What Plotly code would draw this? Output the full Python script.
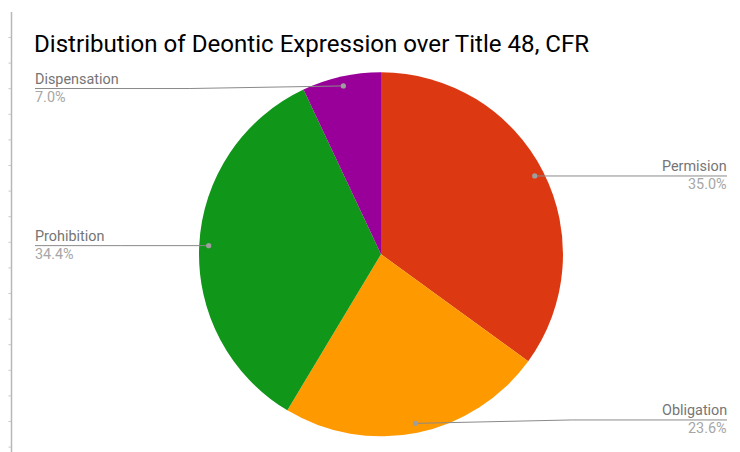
import math
import plotly.graph_objects as go

# ---- data ----
categories = ["Permision", "Obligation", "Prohibition", "Dispensation"]
shares = [35.0, 23.6, 34.4, 7.0]
colors = ["#dc3912", "#ff9900", "#109618", "#990099"]
title_text = "Distribution of Deontic Expression over Title 48, CFR"

# ---- layout geometry (pixels) ----
W, H = 740, 452
CX, CY, R = 381.0, 254.3, 182.0
DOT_FRAC = 0.948
LEFT_X, RIGHT_X = 35.0, 727.0
TEXT_PAD = 2.0
line_y_shift = {"Permision": 0.0, "Obligation": -3.4, "Prohibition": 0.0, "Dispensation": 2.6}


def px(x):
    return x / W


def py(y):
    return 1 - y / H


fig = go.Figure(
    go.Pie(
        labels=categories,
        values=shares,
        marker=dict(colors=colors, line=dict(color="white", width=0)),
        sort=False,
        direction="clockwise",
        rotation=0,
        textinfo="none",
        hoverinfo="label+percent",
        showlegend=False,
        domain=dict(x=[px(CX - R), px(CX + R)], y=[py(CY + R), py(CY - R)]),
    )
)

shapes = []
annotations = []

# left border artifact (spreadsheet edge)
shapes.append(dict(type="line", xref="paper", yref="paper", x0=px(11.5), x1=px(11.5),
                   y0=py(12), y1=py(452), line=dict(color="#b8b8b8", width=1.5)))
k = 0
while True:
    ty = 37.5 + 25.6 * k
    if ty > 450:
        break
    shapes.append(dict(type="line", xref="paper", yref="paper", x0=px(8.5), x1=px(11),
                       y0=py(ty), y1=py(ty), line=dict(color="#c8c8c8", width=1)))
    k += 1

total = sum(shares)
cum = 0.0
for name, val in zip(categories, shares):
    mid = (cum + val / 2) / total
    cum += val
    ang = 2 * math.pi * mid
    dx = CX + DOT_FRAC * R * math.sin(ang)
    dy = CY - DOT_FRAC * R * math.cos(ang)
    left = dx < CX
    ly = dy + line_y_shift[name]
    ex = LEFT_X if left else RIGHT_X
    bx = (dx + ex) / 2
    path = f"M {px(dx)},{py(dy)} L {px(bx)},{py(ly)} L {px(ex)},{py(ly)}"
    shapes.append(dict(type="path", xref="paper", yref="paper", path=path,
                       line=dict(color="#8a8a8a", width=1)))
    rr = 2.6
    shapes.append(dict(type="circle", xref="paper", yref="paper",
                       x0=px(dx - rr), x1=px(dx + rr), y0=py(dy + rr), y1=py(dy - rr),
                       fillcolor="#9e9e9e", line=dict(width=0)))
    xa = "left" if left else "right"
    tx = ex - TEXT_PAD if left else ex + TEXT_PAD
    annotations.append(dict(x=px(tx), y=py(ly - 9.5), xref="paper", yref="paper",
                            text=name, showarrow=False, xanchor=xa, yanchor="middle",
                            font=dict(family="Roboto", size=14.4, color="#757575")))
    annotations.append(dict(x=px(tx), y=py(ly + 9), xref="paper", yref="paper",
                            text=f"{val:.1f}%", showarrow=False, xanchor=xa, yanchor="middle",
                            font=dict(family="Roboto", size=14.4, color="#a6a6a6")))

annotations.append(dict(x=px(31.5), y=py(44), xref="paper", yref="paper", text=title_text,
                        showarrow=False, xanchor="left", yanchor="middle",
                        font=dict(family="Roboto", size=24.1, color="#000000")))

fig.update_layout(
    width=W, height=H,
    margin=dict(l=0, r=0, t=0, b=0),
    paper_bgcolor="white", plot_bgcolor="white",
    shapes=shapes, annotations=annotations,
)

fig.write_html("out.html")
